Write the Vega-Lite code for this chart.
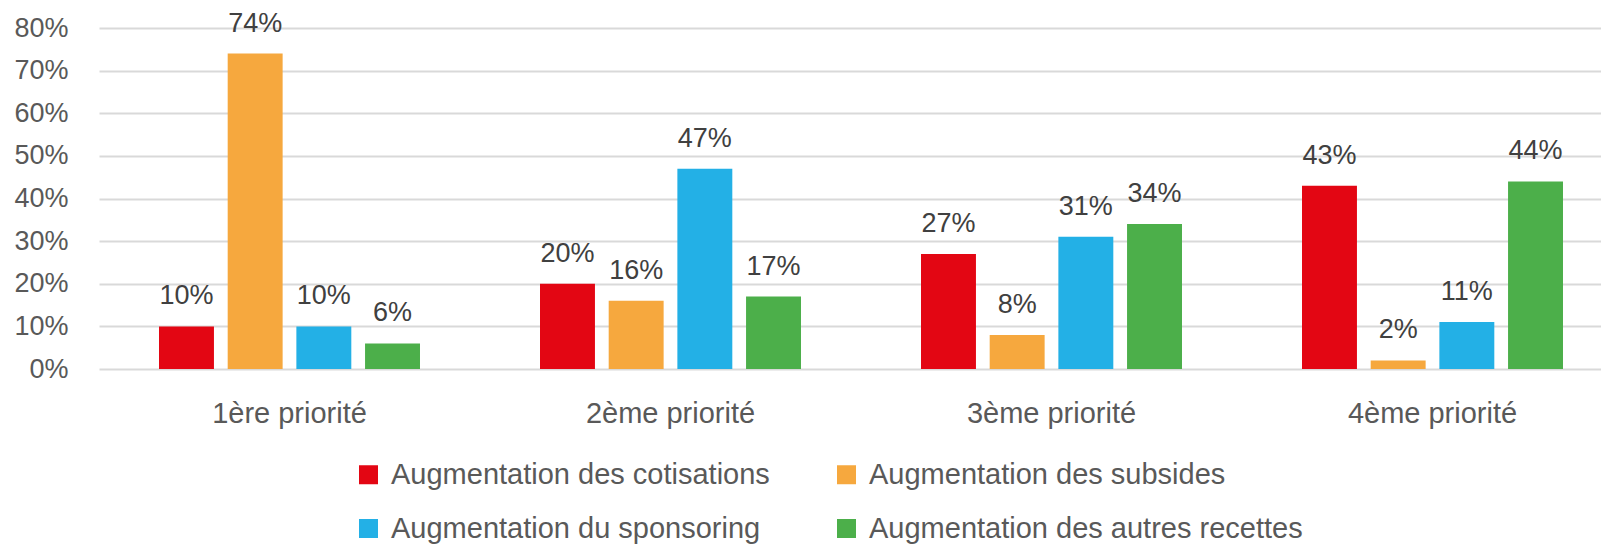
{
  "$schema": "https://vega.github.io/schema/vega-lite/v6.json",
  "width": 1502,
  "height": 341,
  "autosize": "none",
  "padding": {"left": 99, "top": 28, "right": 0, "bottom": 175},
  "background": "white",
  "config": {
    "view": {"stroke": null},
    "font": "Liberation Sans"
  },
  "data": {
    "values": [
      {"priorite": "1ère priorité", "source": "Augmentation des cotisations", "value": 0.10},
      {"priorite": "1ère priorité", "source": "Augmentation des subsides", "value": 0.74},
      {"priorite": "1ère priorité", "source": "Augmentation du sponsoring", "value": 0.10},
      {"priorite": "1ère priorité", "source": "Augmentation des autres recettes", "value": 0.06},
      {"priorite": "2ème priorité", "source": "Augmentation des cotisations", "value": 0.20},
      {"priorite": "2ème priorité", "source": "Augmentation des subsides", "value": 0.16},
      {"priorite": "2ème priorité", "source": "Augmentation du sponsoring", "value": 0.47},
      {"priorite": "2ème priorité", "source": "Augmentation des autres recettes", "value": 0.17},
      {"priorite": "3ème priorité", "source": "Augmentation des cotisations", "value": 0.27},
      {"priorite": "3ème priorité", "source": "Augmentation des subsides", "value": 0.08},
      {"priorite": "3ème priorité", "source": "Augmentation du sponsoring", "value": 0.31},
      {"priorite": "3ème priorité", "source": "Augmentation des autres recettes", "value": 0.34},
      {"priorite": "4ème priorité", "source": "Augmentation des cotisations", "value": 0.43},
      {"priorite": "4ème priorité", "source": "Augmentation des subsides", "value": 0.02},
      {"priorite": "4ème priorité", "source": "Augmentation du sponsoring", "value": 0.11},
      {"priorite": "4ème priorité", "source": "Augmentation des autres recettes", "value": 0.44}
    ]
  },
  "encoding": {
    "x": {
      "field": "priorite",
      "type": "nominal",
      "sort": ["1ère priorité", "2ème priorité", "3ème priorité", "4ème priorité"],
      "scale": {"range": [0, 1524], "paddingInner": 0.315, "paddingOuter": 0.1575},
      "axis": {
        "title": null,
        "labelAngle": 0,
        "ticks": false,
        "domain": false,
        "labelPadding": 30,
        "labelFontSize": 29,
        "labelColor": "#595959",
        "labelFont": "Liberation Sans"
      }
    },
    "xOffset": {
      "field": "source",
      "sort": ["Augmentation des cotisations", "Augmentation des subsides", "Augmentation du sponsoring", "Augmentation des autres recettes"],
      "scale": {"paddingInner": 0.2, "paddingOuter": 0}
    },
    "y": {
      "field": "value",
      "type": "quantitative",
      "scale": {"domain": [0, 0.8], "nice": false},
      "axis": {
        "title": null,
        "format": ".0%",
        "values": [0, 0.1, 0.2, 0.3, 0.4, 0.5, 0.6, 0.7, 0.8],
        "ticks": false,
        "domain": false,
        "labelPadding": 31,
        "labelFontSize": 27,
        "labelColor": "#595959",
        "gridColor": "#d9d9d9",
        "gridWidth": 2
      }
    }
  },
  "layer": [
    {
      "mark": {"type": "bar"},
      "encoding": {
        "color": {
          "field": "source",
          "type": "nominal",
          "sort": ["Augmentation des cotisations", "Augmentation des subsides", "Augmentation du sponsoring", "Augmentation des autres recettes"],
          "scale": {
            "domain": ["Augmentation des cotisations", "Augmentation des subsides", "Augmentation du sponsoring", "Augmentation des autres recettes"],
            "range": ["#e30613", "#f6a83e", "#23b0e6", "#4caf4a"]
          },
          "legend": {
            "title": null,
            "orient": "none",
            "legendX": 255,
            "legendY": 432,
            "columns": 2,
            "direction": "horizontal",
            "columnPadding": 62,
            "rowPadding": 24,
            "symbolType": "square",
            "symbolSize": 361,
            "symbolStrokeWidth": 0,
            "symbolOpacity": 1,
            "labelFontSize": 29,
            "labelColor": "#595959",
            "labelOffset": 8,
            "labelLimit": 0
          }
        }
      }
    },
    {
      "mark": {"type": "text", "baseline": "alphabetic", "dy": -22, "fontSize": 27, "color": "#404040"},
      "encoding": {
        "text": {"field": "value", "type": "quantitative", "format": ".0%"}
      }
    }
  ]
}
